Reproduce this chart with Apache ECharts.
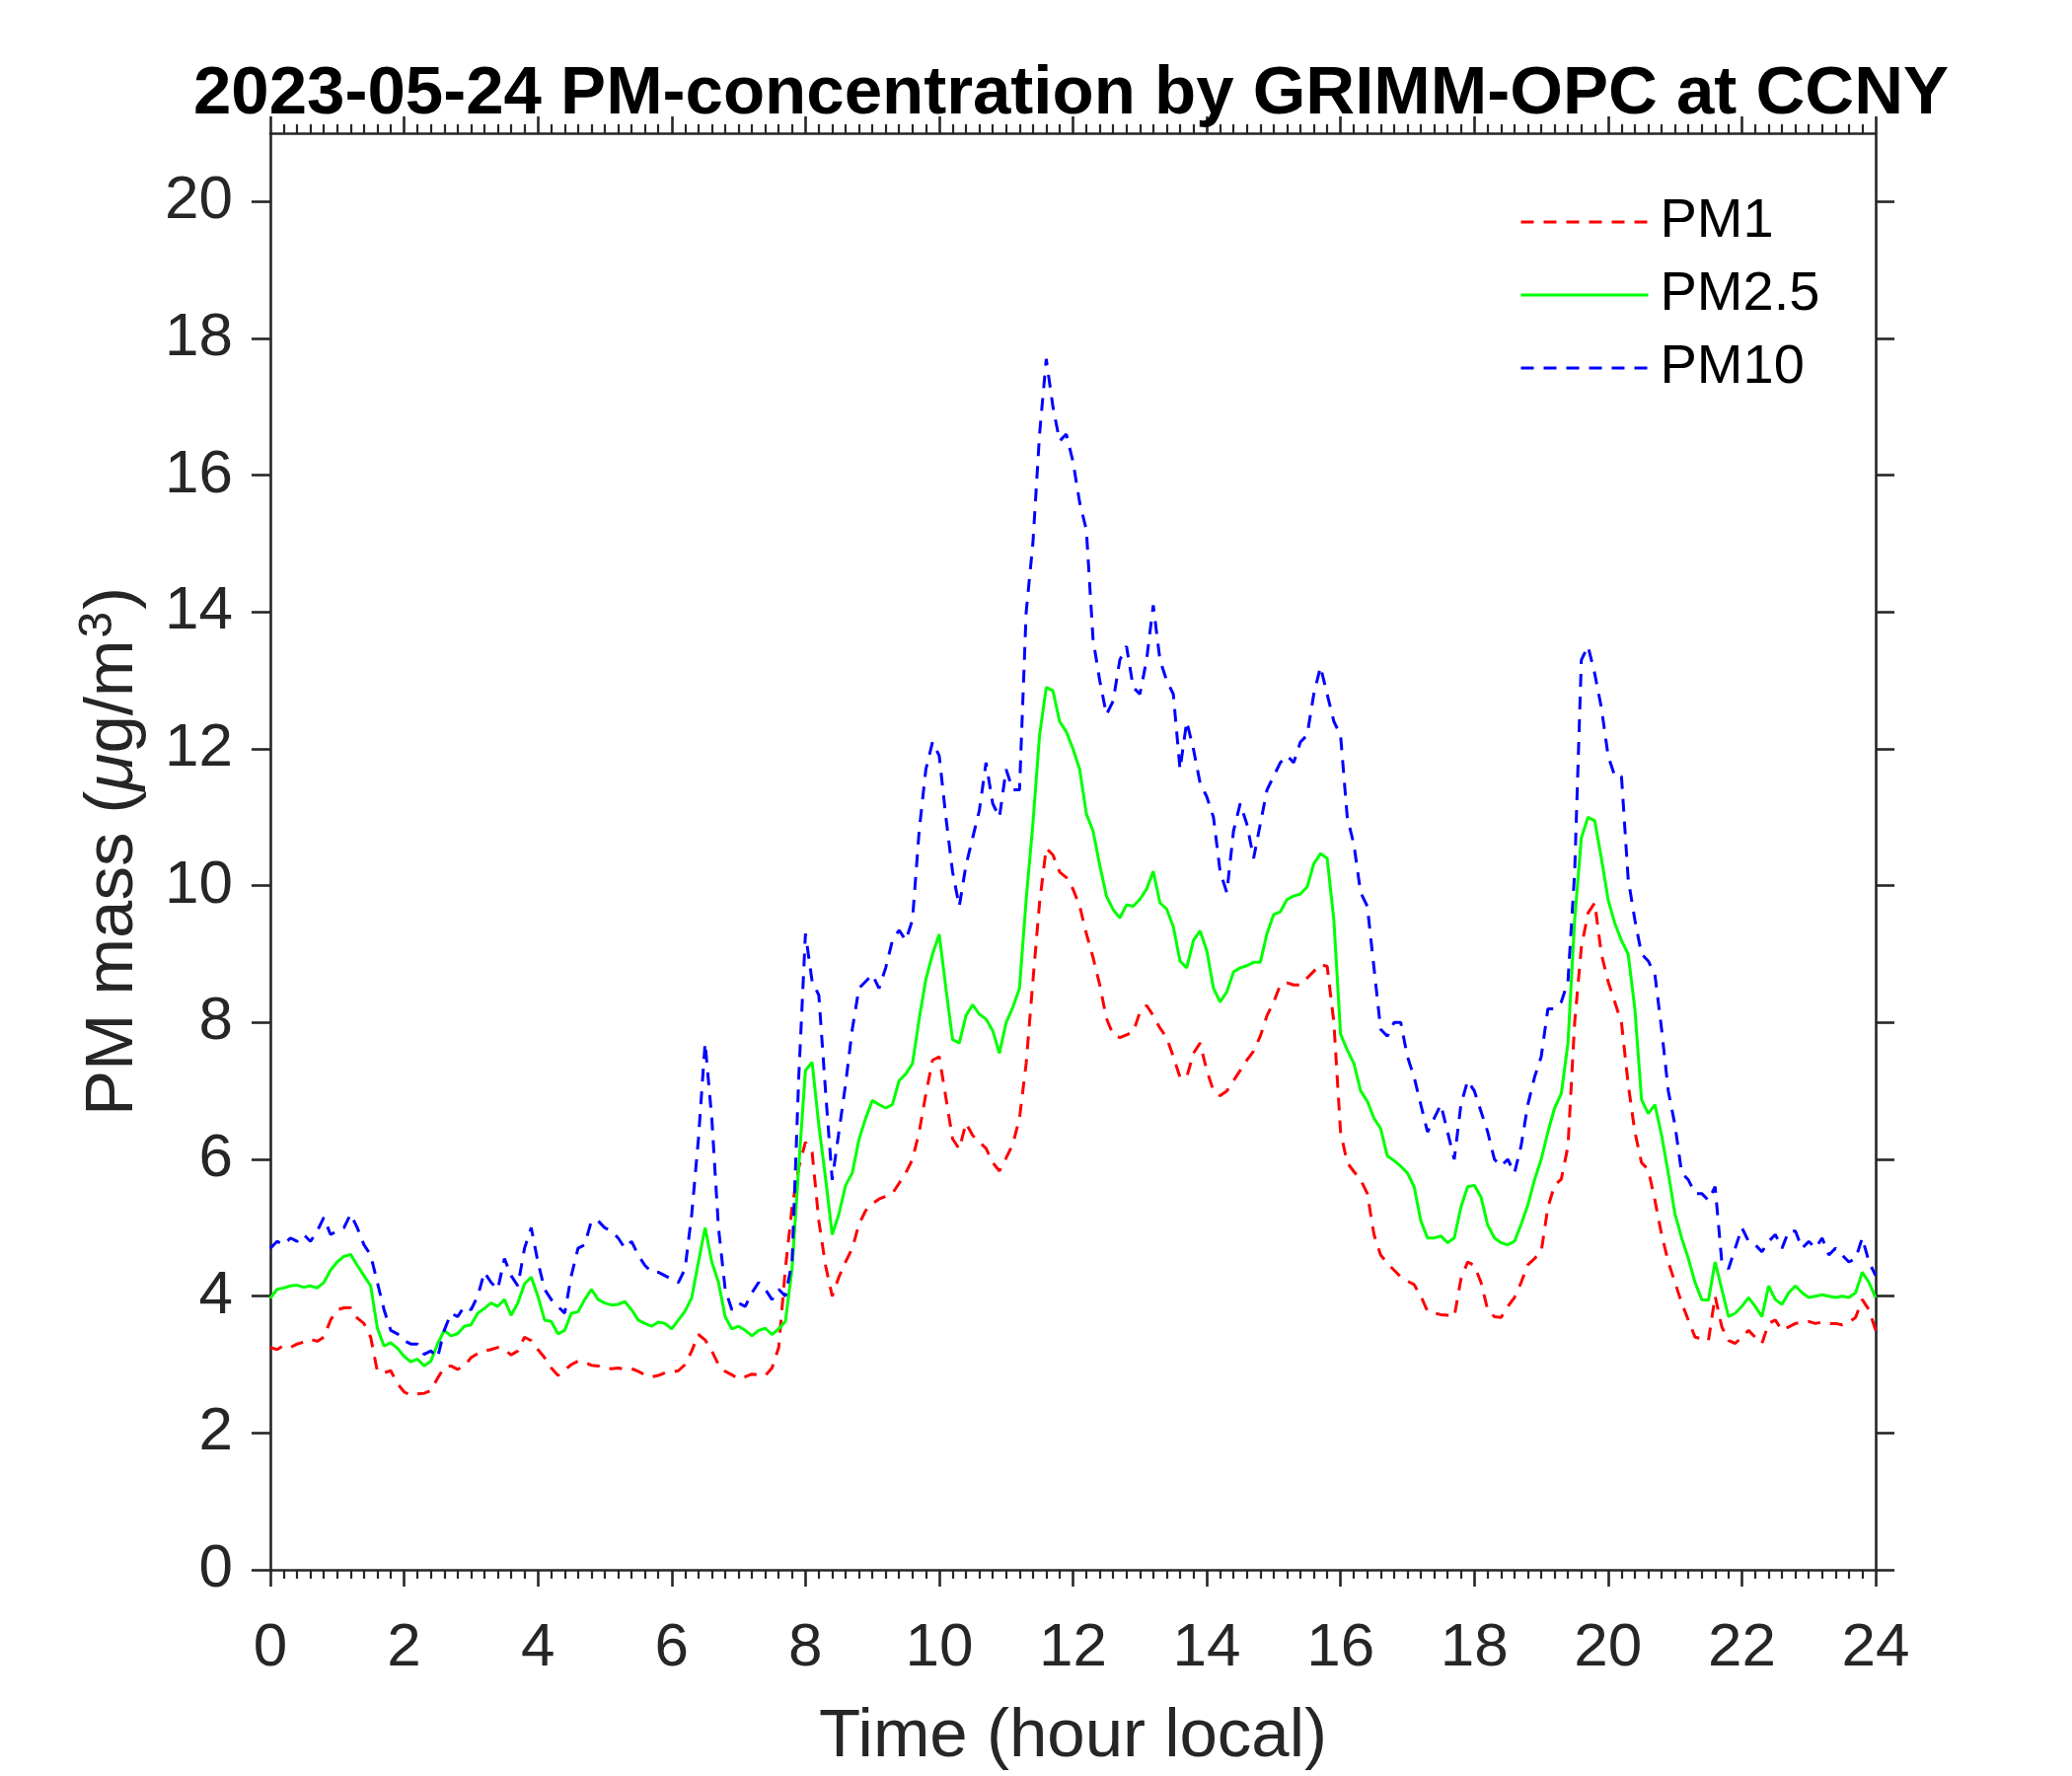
<!DOCTYPE html>
<html>
<head>
<meta charset="utf-8">
<script src="https://cdn.jsdelivr.net/npm/echarts@6/dist/echarts.min.js"></script>
<style>
  html, body { margin:0; padding:0; background:#fff; }
  #chart { width:2100px; height:1800px; }
</style>
</head>
<body>
<div id="chart"></div>
<script>
// samples every 0.1 hour from 0 to 24 (241 values)
const startHour = 0;
const stepHour = 0.1;

const pm1 = [
  3.25,3.22,3.28,3.25,3.3,3.33,3.37,3.34,3.4,3.65,
  3.8,3.83,3.83,3.68,3.6,3.4,2.9,2.88,2.91,2.72,
  2.6,2.55,2.57,2.58,2.62,2.8,2.96,2.98,2.93,2.98,
  3.1,3.16,3.2,3.22,3.25,3.22,3.14,3.2,3.4,3.35,
  3.22,3.1,2.95,2.84,2.92,3.0,3.05,3.03,2.99,2.98,
  2.95,2.94,2.95,2.93,2.94,2.9,2.85,2.82,2.84,2.88,
  2.89,2.91,3.0,3.2,3.44,3.36,3.2,3.0,2.9,2.85,
  2.79,2.82,2.86,2.85,2.84,2.95,3.25,4.4,5.3,5.88,
  6.25,6.1,5.1,4.45,4.0,4.28,4.5,4.7,5.05,5.25,
  5.35,5.42,5.46,5.5,5.65,5.8,6.0,6.4,6.95,7.45,
  7.5,6.9,6.3,6.15,6.53,6.35,6.25,6.16,5.95,5.83,
  6.02,6.22,6.6,7.4,8.6,9.75,10.55,10.45,10.2,10.12,
  9.95,9.7,9.3,8.95,8.55,8.06,7.82,7.78,7.82,7.86,
  8.15,8.25,8.1,7.92,7.78,7.5,7.2,7.2,7.55,7.7,
  7.3,7.0,6.93,7.0,7.15,7.3,7.45,7.58,7.8,8.1,
  8.3,8.55,8.58,8.55,8.55,8.65,8.75,8.85,8.82,8.0,
  6.4,5.95,5.82,5.7,5.5,4.9,4.6,4.48,4.38,4.28,
  4.22,4.17,4.0,3.78,3.75,3.73,3.72,3.7,4.25,4.5,
  4.45,4.2,3.8,3.7,3.69,3.85,3.98,4.2,4.46,4.55,
  4.65,5.3,5.62,5.71,6.19,8.0,9.1,9.6,9.75,9.0,
  8.6,8.3,8.0,7.1,6.4,5.95,5.85,5.4,4.9,4.5,
  4.2,3.9,3.65,3.4,3.38,3.35,4.0,3.55,3.35,3.31,
  3.4,3.5,3.4,3.31,3.6,3.65,3.5,3.55,3.6,3.62,
  3.63,3.6,3.62,3.6,3.6,3.58,3.62,3.69,3.95,3.8,
  3.5
];

const pm25 = [
  3.97,4.1,4.12,4.15,4.16,4.13,4.15,4.12,4.2,4.38,
  4.5,4.58,4.61,4.45,4.3,4.15,3.53,3.27,3.32,3.24,
  3.12,3.04,3.08,2.98,3.05,3.3,3.5,3.42,3.45,3.56,
  3.58,3.75,3.82,3.9,3.85,3.95,3.72,3.9,4.18,4.28,
  4.0,3.65,3.63,3.45,3.5,3.75,3.77,3.95,4.1,3.95,
  3.9,3.87,3.88,3.92,3.8,3.65,3.6,3.56,3.62,3.6,
  3.52,3.65,3.78,3.98,4.5,5.0,4.5,4.2,3.7,3.52,
  3.56,3.5,3.42,3.5,3.53,3.44,3.52,3.63,4.4,5.9,
  7.3,7.42,6.5,5.73,4.9,5.2,5.62,5.8,6.29,6.6,
  6.86,6.8,6.75,6.8,7.15,7.25,7.4,8.05,8.63,9.0,
  9.29,8.5,7.75,7.7,8.1,8.26,8.12,8.05,7.88,7.55,
  8.0,8.22,8.5,9.8,10.9,12.2,12.9,12.85,12.4,12.25,
  12.0,11.7,11.05,10.8,10.3,9.85,9.65,9.53,9.72,9.7,
  9.8,9.95,10.21,9.75,9.66,9.4,8.9,8.8,9.2,9.34,
  9.05,8.5,8.3,8.45,8.74,8.8,8.83,8.88,8.88,9.3,
  9.58,9.62,9.8,9.85,9.88,9.98,10.32,10.47,10.4,9.5,
  7.83,7.6,7.4,7.0,6.85,6.6,6.45,6.05,5.98,5.9,
  5.8,5.6,5.1,4.85,4.85,4.88,4.78,4.85,5.3,5.6,
  5.62,5.45,5.04,4.85,4.78,4.75,4.8,5.05,5.33,5.7,
  6.0,6.4,6.75,6.96,7.7,9.5,10.7,11.0,10.95,10.4,
  9.8,9.45,9.2,9.0,8.2,6.87,6.67,6.8,6.35,5.8,
  5.2,4.85,4.55,4.2,3.95,3.94,4.5,4.1,3.7,3.75,
  3.85,3.98,3.85,3.7,4.15,3.95,3.88,4.05,4.15,4.05,
  3.98,4.0,4.02,4.0,3.98,4.0,3.98,4.05,4.35,4.2,
  3.98
];

const pm10 = [
  4.7,4.8,4.75,4.85,4.8,4.9,4.8,4.95,5.15,4.9,
  4.95,5.0,5.2,5.0,4.75,4.6,4.2,3.8,3.5,3.45,
  3.35,3.3,3.3,3.15,3.2,3.1,3.5,3.75,3.7,3.85,
  3.8,4.0,4.35,4.2,4.1,4.55,4.3,4.15,4.7,5.0,
  4.5,4.1,3.95,3.85,3.75,4.3,4.7,4.75,5.1,5.1,
  5.0,4.95,4.85,4.7,4.8,4.6,4.45,4.35,4.35,4.3,
  4.25,4.2,4.4,5.2,6.3,7.7,6.6,5.0,4.1,3.8,
  3.9,3.85,4.05,4.2,4.1,3.95,4.1,4.0,4.5,7.2,
  9.3,8.6,8.4,7.0,5.7,6.4,7.1,7.9,8.5,8.6,
  8.7,8.5,8.8,9.2,9.35,9.2,9.5,10.8,11.7,12.1,
  11.9,11.0,10.2,9.7,10.3,10.7,11.1,11.8,11.2,11.0,
  11.7,11.4,11.4,14.0,15.0,16.6,17.7,17.0,16.5,16.6,
  16.2,15.6,15.2,13.6,13.0,12.5,12.7,13.3,13.5,12.9,
  12.8,13.3,14.1,13.3,13.0,12.8,11.7,12.4,12.0,11.5,
  11.3,11.0,10.2,9.9,10.8,11.2,10.9,10.4,10.9,11.4,
  11.6,11.8,11.9,11.8,12.1,12.2,12.8,13.2,12.8,12.4,
  12.2,11.0,10.6,9.9,9.7,8.8,7.9,7.8,8.0,8.0,
  7.5,7.2,6.8,6.4,6.6,6.8,6.4,6.0,6.8,7.15,
  7.0,6.7,6.4,6.0,5.9,6.0,5.8,6.2,6.8,7.2,
  7.5,8.2,8.2,8.3,8.6,10.2,13.3,13.5,13.1,12.6,
  11.9,11.6,11.6,10.1,9.5,9.0,8.9,8.7,7.9,7.0,
  6.5,5.8,5.7,5.5,5.5,5.4,5.6,4.5,4.4,4.7,
  5.0,4.8,4.75,4.65,4.8,4.9,4.7,4.95,4.95,4.7,
  4.8,4.7,4.85,4.6,4.7,4.6,4.5,4.55,4.85,4.5,
  4.3
];

const yTicks = [0, 2, 4, 6, 8, 10, 12, 14, 16, 18, 20];
const seriesNames = ['PM1', 'PM2.5', 'PM10'];

function toPairs(values){
    return values.map((v, i) => [+(startHour + i * stepHour).toFixed(1), v]);
}

const axisColor = '#262626';
const fontFamily = '"Liberation Sans", Arial, Helvetica, sans-serif';

const xCommon = {
    type:'value',
    min:0,
    max:24,
    interval:2,
    axisLine:{ show:true, onZero:false, lineStyle:{ color:axisColor, width:2.6 } },
    axisTick:{ show:true, inside:false, length:17, lineStyle:{ color:axisColor, width:2.6 } },
    minorTick:{ show:true, splitNumber:10, length:9, lineStyle:{ color:axisColor, width:2.2 } },
    splitLine:{ show:false },
    minorSplitLine:{ show:false }
};

const yCommon = {
    type:'value',
    min:0,
    max:21,
    axisLine:{ show:true, onZero:false, lineStyle:{ color:axisColor, width:2.6 } },
    axisTick:{ show:true, inside:false, length:19, customValues:yTicks, lineStyle:{ color:axisColor, width:2.6 } },
    splitLine:{ show:false }
};

let myChart = echarts.init(document.getElementById('chart'), null, { renderer:'canvas' });
let option = {
    animation:false,
    backgroundColor:'#fff',
    title:{
        text:'2023-05-24 PM-concentration by GRIMM-OPC at CCNY',
        left:196,
        top:61,
        padding:0,
        textStyle:{ fontFamily:fontFamily, fontSize:69, fontWeight:'bold', color:'#000' }
    },
    grid:{
        left:274,
        top:135,
        width:1627,
        height:1461,
        containLabel:false
    },
    legend:{
        orient:'vertical',
        left:1535,
        top:192,
        itemWidth:129,
        itemHeight:14,
        itemGap:18,
        data:seriesNames,
        itemStyle:{ opacity:0 },
        lineStyle:{ width:3 },
        textStyle:{ fontFamily:fontFamily, fontSize:56, color:'#000', lineHeight:56, padding:[0, 0, 0, 7] }
    },
    xAxis:[
        Object.assign({}, xCommon, {
            position:'bottom',
            name:'Time (hour local)',
            nameLocation:'middle',
            nameGap:135,
            nameTextStyle:{ fontFamily:fontFamily, fontSize:69, color:axisColor },
            axisLabel:{ show:true, margin:49, fontFamily:fontFamily, fontSize:62, color:axisColor }
        }),
        Object.assign({}, xCommon, {
            position:'top',
            axisLabel:{ show:false }
        })
    ],
    yAxis:[
        Object.assign({}, yCommon, {
            position:'left',
            name:'{a|PM mass (}{mu|μ}{a|g/m}{sup|3}{a|)}',
            nameLocation:'middle',
            nameGap:120,
            nameRotate:90,
            nameTextStyle:{
                fontFamily:fontFamily,
                fontSize:69,
                color:axisColor,
                rich:{
                    a:{ fontFamily:fontFamily, fontSize:69, color:axisColor },
                    mu:{ fontFamily:fontFamily, fontSize:69, fontStyle:'italic', color:axisColor },
                    sup:{ fontFamily:fontFamily, fontSize:48, color:axisColor, verticalAlign:'top', padding:[0, 2, 30, 2] }
                }
            },
            axisLabel:{ show:true, margin:38, customValues:yTicks, fontFamily:fontFamily, fontSize:62, color:axisColor }
        }),
        Object.assign({}, yCommon, {
            position:'right',
            axisLabel:{ show:false }
        })
    ],
    series:[
        {
            name:seriesNames[0],
            type:'line',
            data:toPairs(pm1),
            symbol:'none',
            smooth:false,
            lineStyle:{ color:'#ff0000', width:3, type:[13, 10] },
            itemStyle:{ color:'#ff0000' }
        },
        {
            name:seriesNames[1],
            type:'line',
            data:toPairs(pm25),
            symbol:'none',
            smooth:false,
            lineStyle:{ color:'#00ff00', width:3, type:'solid' },
            itemStyle:{ color:'#00ff00' }
        },
        {
            name:seriesNames[2],
            type:'line',
            data:toPairs(pm10),
            symbol:'none',
            smooth:false,
            lineStyle:{ color:'#0000ff', width:3, type:[13, 10] },
            itemStyle:{ color:'#0000ff' }
        }
    ]
};
myChart.setOption(option);
</script>
</body>
</html>
